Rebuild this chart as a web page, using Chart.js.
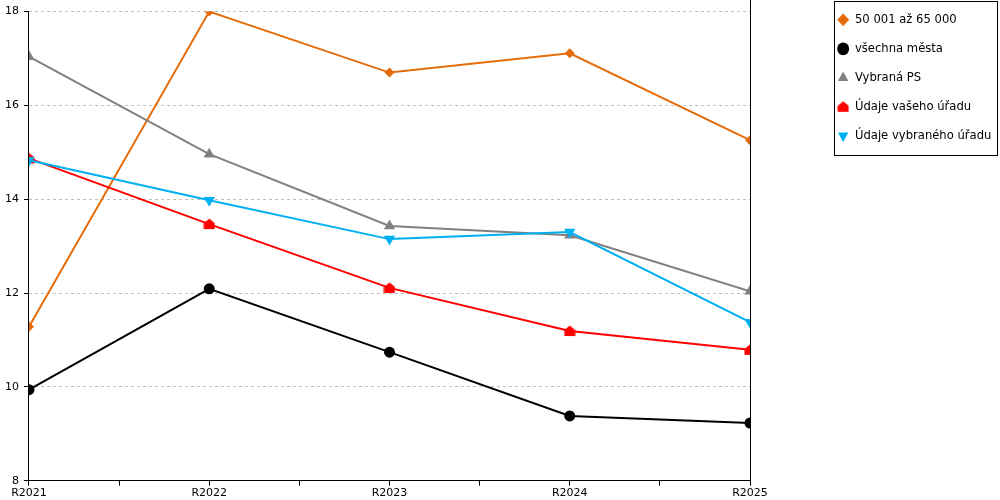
<!DOCTYPE html>
<html>
<head>
<meta charset="utf-8">
<script src="https://cdn.jsdelivr.net/npm/chart.js@4/dist/chart.umd.min.js"></script>
<style>
  body { margin: 0; background: #fff; }
  #wrap { width: 1000px; height: 500px; }
</style>
</head>
<body>
<div id="wrap"><canvas id="mychart" width="1000" height="500"></canvas></div>
<script>
const years = ['R2021', 'R2022', 'R2023', 'R2024', 'R2025'];

const city5065 = [11.28, 18.0, 16.70, 17.11, 15.26];
const allCities = [9.94, 12.09, 10.74, 9.38, 9.23];
const selectedPS = [17.04, 14.96, 13.43, 13.23, 12.04];
const yourOffice = [14.87, 13.47, 12.11, 11.19, 10.79];
const selectedOffice = [14.83, 13.98, 13.15, 13.30, 11.38];

const yTicks = [8, 10, 12, 14, 16, 18];

// red "house" marker
const house = document.createElement('canvas');
house.width = 12; house.height = 12;
const hc = house.getContext('2d');
hc.fillStyle = '#ff0000';
hc.beginPath();
hc.moveTo(6, 0.5);
hc.lineTo(11.5, 5);
hc.lineTo(11.5, 11);
hc.lineTo(0.5, 11);
hc.lineTo(0.5, 5);
hc.closePath();
hc.fill();

function pts(vals) {
    return vals.map((v, i) => ({x: i, y: v}));
}

function line(label, vals, color, style, radius, rotation, order) {
    return {
        label: label,
        data: pts(vals),
        borderColor: color,
        backgroundColor: color,
        pointBackgroundColor: color,
        pointBorderColor: color,
        pointBorderWidth: 0,
        borderWidth: 2,
        pointStyle: style,
        pointRadius: radius,
        pointRotation: rotation,
        tension: 0,
        order: order
    };
}

const frame = {
    id: 'frame',
    afterInit(chart) {
        const lg = chart.legend;
        const fit = lg.fit;
        lg.fit = function () { fit.call(this); this.width = 250; };
    },
    afterLayout(chart) {
        chart.legend.left = 819.75;
        chart.legend.top = -3.4;
    },
    afterDraw(chart) {
        const c = chart.ctx;
        const a = chart.chartArea;
        c.save();
        c.strokeStyle = '#000';
        c.lineWidth = 1;
        c.beginPath();
        c.moveTo(Math.round(a.right) + 0.5, 0);
        c.lineTo(Math.round(a.right) + 0.5, a.bottom);
        c.stroke();
        c.strokeRect(834.5, 1.5, 163, 154);
        c.restore();
    }
};

const ctx = document.getElementById('mychart').getContext('2d');

const mychart = new Chart(ctx, {
    type: 'line',
    data: {
        datasets: [
            line('50 001 až 65 000', city5065, '#e46c0a', 'rectRot', 5, 0, 4),
            line('všechna města', allCities, '#000000', 'circle', 5.5, 0, 3),
            line('Vybraná PS', selectedPS, '#808080', 'triangle', 6.5, 0, 2),
            line('Údaje vašeho úřadu', yourOffice, '#ff0000', house, 6, 0, 1),
            line('Údaje vybraného úřadu', selectedOffice, '#00b0f0', 'triangle', 6.5, 180, 0)
        ]
    },
    options: {
        responsive: false,
        animation: false,
        layout: {
            padding: {top: 2.4, left: 0, right: 0, bottom: 0}
        },
        scales: {
            x: {
                type: 'linear',
                min: 0,
                max: years.length - 1,
                ticks: {
                    stepSize: 0.5,
                    autoSkip: false,
                    maxRotation: 0,
                    padding: 0,
                    color: '#000',
                    font: {family: 'DejaVu Sans', size: 11, lineHeight: 1.3},
                    callback: v => Number.isInteger(v) ? years[v] : ''
                },
                grid: {
                    drawOnChartArea: false,
                    tickLength: 5,
                    tickColor: '#000'
                },
                border: {color: '#000', width: 1}
            },
            y: {
                min: 8,
                max: 18,
                afterBuildTicks: s => { s.ticks = yTicks.map(v => ({value: v})); },
                ticks: {
                    padding: 5,
                    color: '#000',
                    font: {family: 'DejaVu Sans', size: 11}
                },
                grid: {
                    color: '#c0c0c0',
                    tickColor: '#000',
                    tickLength: 5,
                    tickBorderDash: []
                },
                border: {color: '#000', width: 1, dash: [3, 3]}
            }
        },
        plugins: {
            legend: {
                position: 'right',
                align: 'start',
                labels: {
                    usePointStyle: true,
                    boxHeight: 9,
                    pointStyleWidth: 12,
                    padding: 17.4,
                    color: '#000',
                    font: {family: 'DejaVu Sans', size: 11.6},
                    sort: (a, b) => a.datasetIndex - b.datasetIndex
                }
            },
            tooltip: {enabled: false}
        }
    },
    plugins: [frame]
});
</script>
</body>
</html>
